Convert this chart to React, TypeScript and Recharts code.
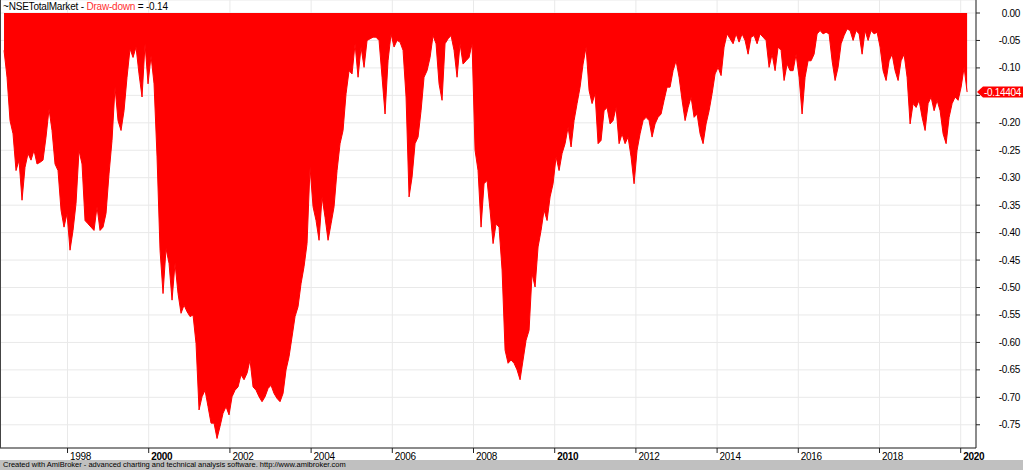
import { AreaChart, Area, XAxis, YAxis, CartesianGrid, ReferenceLine } from "recharts";

// drawdown, one sample every ~0.074 yr starting mid-1996
const dd1996to1999 = [
  -0.068, -0.117, -0.196, -0.22, -0.287, -0.268, -0.341, -0.281, -0.256, -0.268, -0.25, -0.275, -0.272,
  -0.268, -0.226, -0.175, -0.214, -0.275, -0.287, -0.359, -0.39, -0.365, -0.432, -0.396, -0.347, -0.25,
  -0.275, -0.378, -0.384, -0.39, -0.396, -0.353, -0.396, -0.39, -0.365, -0.293, -0.232, -0.135, -0.196,
  -0.214, -0.178, -0.117, -0.065, -0.081, -0.062, -0.111, -0.153, -0.056, -0.129, -0.078, -0.129, -0.262,
  -0.432, -0.511, -0.429, -0.456, -0.523, -0.456, -0.511, -0.547, -0.532, -0.544, -0.553, -0.55,
];
const dd2000to2004 = [
  -0.602, -0.723, -0.699, -0.687, -0.717, -0.747, -0.747, -0.775, -0.753, -0.729, -0.717, -0.732, -0.699,
  -0.687, -0.681, -0.659, -0.668, -0.656, -0.632, -0.681, -0.687, -0.699, -0.708, -0.699, -0.684, -0.678,
  -0.693, -0.702, -0.708, -0.693, -0.65, -0.626, -0.59, -0.553, -0.535, -0.493, -0.462, -0.42, -0.281,
  -0.353, -0.378, -0.414, -0.335, -0.372, -0.414, -0.384, -0.353, -0.287, -0.238, -0.214, -0.147, -0.105,
  -0.111, -0.056, -0.117, -0.062, -0.099, -0.05, -0.047, -0.044, -0.044, -0.05, -0.117, -0.184, -0.087,
];
const dd2004to2009 = [
  -0.038, -0.062, -0.05, -0.053, -0.068, -0.153, -0.335, -0.299, -0.238, -0.226, -0.178, -0.117, -0.105,
  -0.081, -0.041, -0.056, -0.129, -0.159, -0.056, -0.047, -0.041, -0.068, -0.117, -0.056, -0.093, -0.087,
  -0.081, -0.056, -0.25, -0.287, -0.39, -0.311, -0.305, -0.359, -0.42, -0.384, -0.39, -0.468, -0.614,
  -0.638, -0.632, -0.638, -0.65, -0.668, -0.632, -0.596, -0.578, -0.475, -0.499, -0.426, -0.396, -0.359,
  -0.378, -0.335, -0.311, -0.262, -0.287, -0.256, -0.238, -0.208, -0.244, -0.196, -0.165, -0.135, -0.093,
];
const dd2009to2014 = [
  -0.062, -0.141, -0.165, -0.147, -0.238, -0.232, -0.178, -0.172, -0.202, -0.196, -0.172, -0.238, -0.22,
  -0.238, -0.226, -0.262, -0.311, -0.25, -0.22, -0.196, -0.19, -0.196, -0.226, -0.202, -0.19, -0.184,
  -0.159, -0.135, -0.135, -0.105, -0.087, -0.117, -0.159, -0.196, -0.172, -0.153, -0.19, -0.184, -0.22,
  -0.238, -0.202, -0.178, -0.147, -0.111, -0.099, -0.114, -0.062, -0.038, -0.047, -0.056, -0.038, -0.053,
  -0.038, -0.05, -0.075, -0.044, -0.041, -0.056, -0.038, -0.044, -0.05, -0.099, -0.075, -0.105, -0.062,
];
const dd2014to2020 = [
  -0.068, -0.123, -0.093, -0.105, -0.105, -0.075, -0.117, -0.184, -0.117, -0.087, -0.087, -0.075, -0.038,
  -0.032, -0.038, -0.035, -0.038, -0.087, -0.123, -0.099, -0.056, -0.041, -0.029, -0.032, -0.05, -0.032,
  -0.038, -0.075, -0.032, -0.05, -0.032, -0.038, -0.035, -0.062, -0.105, -0.123, -0.087, -0.075, -0.105,
  -0.123, -0.087, -0.075, -0.117, -0.202, -0.165, -0.172, -0.159, -0.19, -0.214, -0.165, -0.153, -0.178,
  -0.159, -0.178, -0.22, -0.238, -0.19, -0.165, -0.153, -0.159, -0.135, -0.099, -0.144,
];

const lastDrawdown = -0.14404;
const yearTicks = [1998, 2000, 2002, 2004, 2006, 2008, 2010, 2012, 2014, 2016, 2018, 2020];
const valueTicks = [
  0, -0.05, -0.1, -0.15, -0.2, -0.25, -0.3, -0.35, -0.4, -0.45, -0.5, -0.55, -0.6, -0.65, -0.7, -0.75,
];

const START = 1996.436;
const STEP = 0.0739;

const drawdown = [...dd1996to1999, ...dd2000to2004, ...dd2004to2009, ...dd2009to2014, ...dd2014to2020];
const data = drawdown.map((dd, i) => ({ t: START + i * STEP, dd }));

const FONT = "'Liberation Sans', Arial, sans-serif";

function YearTick({ x, y, payload }: any) {
  const bold = payload.value % 10 === 0;
  return (
    <text x={x + 2.5} y={y + 4.5} fontSize={10} fontFamily={FONT} fontWeight={bold ? 700 : 400} fill="#000" letterSpacing={-0.3}>
      {payload.value}
    </text>
  );
}

function ValueTick({ x, y, payload }: any) {
  // the last-value tag sits on top of this label in the original
  if (Math.abs(payload.value - lastDrawdown) < 0.02) return <g />;
  return (
    <text x={x + 38} y={y + 3.5} fontSize={10} fontFamily={FONT} textAnchor="end" fill="#000" letterSpacing={-0.3}>
      {payload.value.toFixed(2)}
    </text>
  );
}

function ValueTag({ viewBox }: any) {
  if (!viewBox) return null;
  const x = viewBox.x + viewBox.width;
  const y = viewBox.y;
  return (
    <g>
      <polygon
        points={`${x + 1},${y} ${x + 7},${y - 5.5} ${x + 48},${y - 5.5} ${x + 48},${y + 5.5} ${x + 7},${y + 5.5}`}
        fill="#ff0000"
      />
      <text x={x + 45} y={y + 3.5} fontSize={10} fontFamily={FONT} textAnchor="end" fill="#fff" letterSpacing={-0.3}>
        {lastDrawdown.toFixed(5)}
      </text>
    </g>
  );
}

export default function App() {
  return (
    <div style={{ position: "absolute", left: 0, top: 0, width: 1023, height: 470, background: "#fff", overflow: "hidden" }}>
      <AreaChart width={1023} height={460} data={data} margin={{ top: 0, right: 0, bottom: 0, left: 0 }}>
        <CartesianGrid stroke="#e9e9e9" />
        <XAxis
          dataKey="t"
          type="number"
          domain={[1996.337, 2020.377]}
          ticks={yearTicks}
          height={12}
          tickSize={5}
          tick={<YearTick />}
          stroke="#222"
          allowDataOverflow
        />
        <YAxis
          orientation="right"
          width={47}
          domain={[-0.7923, 0.0237]}
          ticks={valueTicks}
          tickSize={4}
          tick={<ValueTick />}
          stroke="#222"
          allowDataOverflow
        />
        <Area
          dataKey="dd"
          type="linear"
          baseValue={0}
          stroke="#ff0000"
          strokeWidth={1}
          fill="#ff0000"
          fillOpacity={1}
          dot={false}
          activeDot={false}
          isAnimationActive={false}
        />
        <ReferenceLine y={lastDrawdown} stroke="none" label={<ValueTag />} />
      </AreaChart>
      <div style={{ position: "absolute", left: 0, top: 0, width: 1, height: 448, background: "#444" }} />
      <div
        style={{
          position: "absolute",
          left: 3,
          top: 1,
          fontFamily: FONT,
          fontSize: 10,
          lineHeight: "12px",
          letterSpacing: -0.2,
          color: "#000",
          whiteSpace: "nowrap",
        }}
      >
        ~NSETotalMarket - <span style={{ color: "#ff3030" }}>Draw-down</span> = -0.14
      </div>
      <div
        style={{
          position: "absolute",
          left: 0,
          top: 460,
          width: 1023,
          height: 10,
          background: "#c0c0c0",
          fontFamily: FONT,
          fontSize: 7.5,
          lineHeight: "10px",
          paddingLeft: 3,
          color: "#000",
          whiteSpace: "nowrap",
        }}
      >
        Created with AmiBroker - advanced charting and technical analysis software. http://www.amibroker.com
      </div>
    </div>
  );
}
